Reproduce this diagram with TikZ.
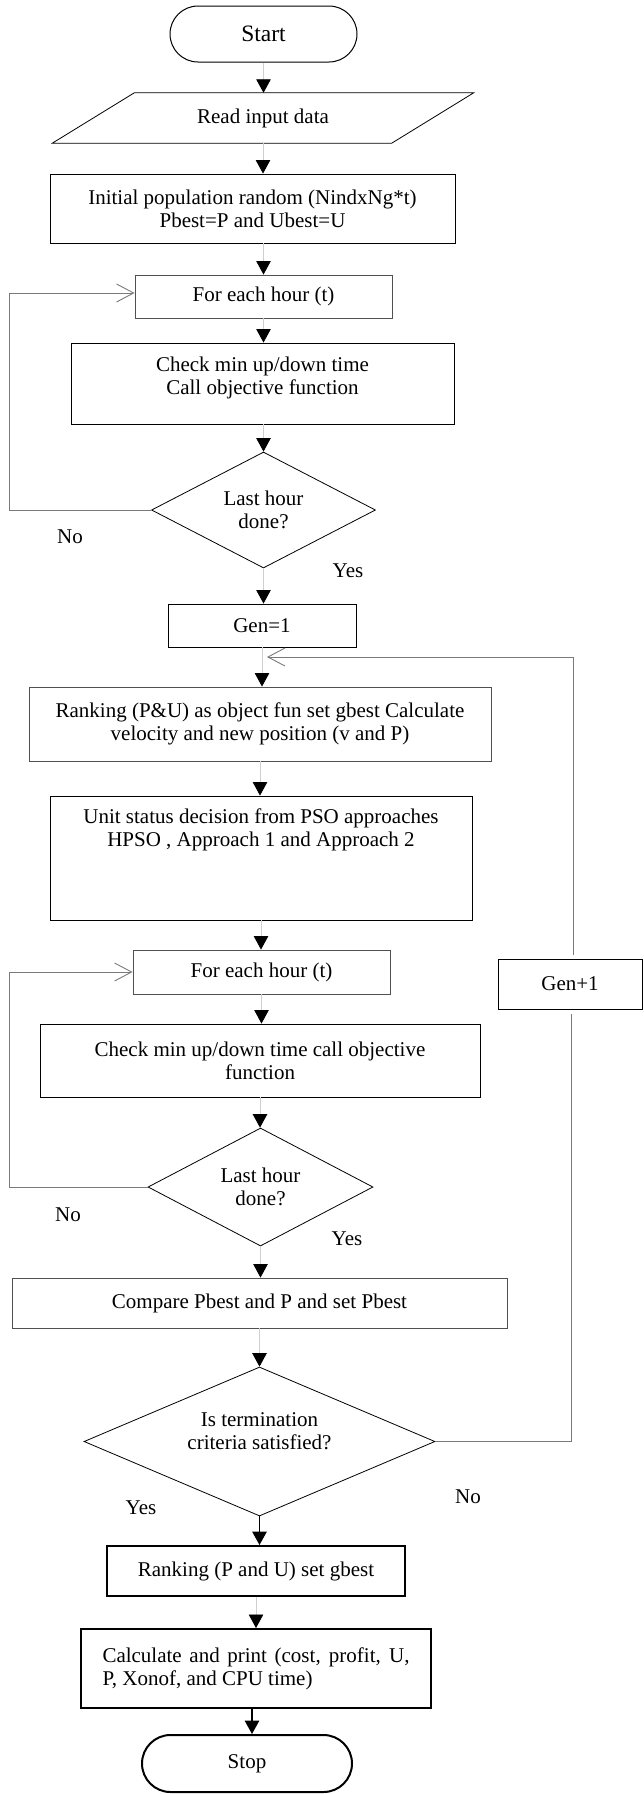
\documentclass[tikz,border=0pt]{standalone}
\usepackage{fontspec}
\setmainfont{Liberation Serif}
\usetikzlibrary{arrows.meta,shapes.geometric,calc}
\definecolor{connc}{HTML}{CFCFCF}
\definecolor{loopc}{HTML}{7A7A7A}
\definecolor{boxgray}{HTML}{505050}
\newcommand\raisetext[2]{\raisebox{#1}[\height][\depth]{\begin{tabular}{@{}c@{}}#2\end{tabular}}}
\begin{document}
\begin{tikzpicture}[x=1pt,y=-1pt,
  every node/.style={font=\fontsize{21}{23.3}\selectfont, inner sep=0pt},
  proc/.style={draw=black, line width=0.9pt, rectangle, align=center},
  procg/.style={proc, draw=boxgray},
  procb/.style={proc, line width=2pt},
  stadium/.style={draw=black, line width=1pt, rectangle, rounded corners=28pt},
  decision/.style={draw=black, line width=0.8pt, diamond, align=center},
  conn/.style={draw=connc, line width=0.8pt, -{Triangle[length=13.5pt,width=14.5pt,color=black]}},
  connb/.style={draw=black, line width=1.6pt, -{Triangle[length=13.5pt,width=14.5pt,color=black]}},
  back/.style={draw=loopc, line width=0.9pt, -{Straight Barb[length=17pt,width=18pt]}},
  backline/.style={draw=loopc, line width=0.9pt}
]
\useasboundingbox (0,0) rectangle (643,1794);

% nodes
\node[stadium, minimum width=187pt, minimum height=56pt, font=\fontsize{23.5}{26}\selectfont] (start) at (263.5,34) {Start};
\node[minimum width=339pt, minimum height=50pt] (read) at (263,118) {Read input data};
\draw[line width=0.8pt] ($(read.south west)+(-41,0)$) -- ($(read.north west)+(41,0)$) -- ($(read.north east)+(41,0)$) -- ($(read.south east)+(-41,0)$) -- cycle;
\node[proc, minimum width=405pt, minimum height=69pt] (init) at (252.5,208.5) {Initial population random (NindxNg*t)\\Pbest=P and Ubest=U};
\node[procg, minimum width=257pt, minimum height=43pt] (fe1) at (263.5,296.5) {For each hour (t)};
\node[proc, minimum width=383pt, minimum height=81pt] (chk1) at (262.5,383.5) {\raisetext{5pt}{Check min up/down time\\Call objective function}};
\node[decision, minimum width=224pt, minimum height=116pt, shape aspect=1.9] (d1) at (263.5,510) {Last hour\\done?};
\node[proc, minimum width=188pt, minimum height=43pt] (gen1) at (262,625.5) {Gen=1};
\node[procg, minimum width=462pt, minimum height=74pt] (rank1) at (260,724) {Ranking (P\&U) as object fun set gbest Calculate\\velocity and new position (v and P)};
\node[proc, minimum width=422pt, minimum height=124pt] (unit) at (261,858) {\raisetext{28pt}{Unit status decision from PSO approaches\\HPSO , Approach 1 and Approach 2}};
\node[procg, minimum width=257pt, minimum height=44pt] (fe2) at (261.5,972) {For each hour (t)};
\node[proc, minimum width=440pt, minimum height=73pt] (chk2) at (260,1060.5) {Check min up/down time call objective\\function};
\node[decision, minimum width=225pt, minimum height=118pt, shape aspect=1.9] (d2) at (260.5,1187) {Last hour\\done?};
\node[procg, minimum width=495pt, minimum height=50pt] (cmp) at (259.5,1303) {Compare Pbest and P and set Pbest};
\node[decision, minimum width=351pt, minimum height=149pt, shape aspect=2.36] (crit) at (259.5,1441.5) {\raisetext{8pt}{Is termination\\criteria satisfied?}};
\node[procb, minimum width=298pt, minimum height=50pt] (rank2) at (256,1571) {Ranking (P and U) set gbest};
\node[procb, minimum width=350pt, minimum height=79pt, align=left] (calc) at (256,1668.5) {\makebox[307pt][s]{Calculate and print (cost, profit, U,}\\P, Xonof, and CPU time)};
\node[stadium, line width=2pt, rounded corners=28.5pt, minimum width=210pt, minimum height=57pt] (stop) at (247,1763.5) {Stop};
\node[proc, minimum width=144pt, minimum height=50pt] (genp) at (570,984) {Gen+1};

% labels
\node (no1) at (70,537) {No};
\node (yes1) at (348,571) {Yes};
\node (no2) at (68,1215) {No};
\node (yes2) at (347,1239) {Yes};
\node (yes3) at (141,1508) {Yes};
\node (no3) at (468,1497) {No};

% main connectors
\draw[conn] (start.south) -- (start.south |- read.north);
\draw[conn] (read.south) -- (read.south |- init.north);
\draw[conn] (fe1.north |- init.south) -- (fe1.north);
\draw[conn] (fe1.south) -- (fe1.south |- chk1.north);
\draw[conn] (d1.north |- chk1.south) -- (d1.north);
\draw[conn] (d1.south) -- (d1.south |- gen1.north);
\draw[conn] (gen1.south) -- (gen1.south |- rank1.north);
\draw[conn] (rank1.south) -- (rank1.south |- unit.north);
\draw[conn] (unit.south) -- (unit.south |- fe2.north);
\draw[conn] (fe2.south) -- (fe2.south |- chk2.north);
\draw[conn] (chk2.south) -- (chk2.south |- d2.north);
\draw[conn] (d2.south) -- (d2.south |- cmp.north);
\draw[conn] (cmp.south) -- (cmp.south |- crit.north);
\draw[connb] (crit.south) -- (crit.south |- rank2.north);
\draw[conn] (rank2.south) -- (rank2.south |- calc.north);
\draw[connb] ([xshift=-4pt]calc.south) -- ([xshift=-4pt]calc.south |- stop.north);

% loops
\coordinate (lp1) at (9,510);
\coordinate (lp2) at (9,1187);
\draw[back] (d1.west) -- (lp1) |- ([yshift=3.5pt]fe1.west);
\draw[back] (d2.west) -- (lp2) |- (fe2.west);

% feedback to Gen=1
\coordinate (fb) at (267,657);
\draw[backline, shorten >=5pt] (crit.east) -| ([xshift=1pt]genp.south);
\draw[back, shorten <=4pt] ([xshift=3pt]genp.north) |- (fb);
\end{tikzpicture}
\end{document}
